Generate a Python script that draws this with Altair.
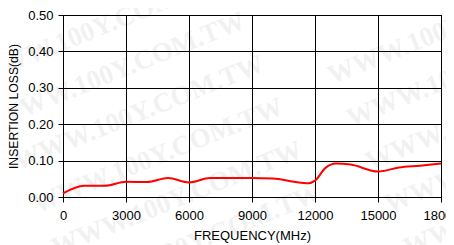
import altair as alt
import pandas as pd

freq = [0, 1000, 2000, 3000, 4000, 5000, 6000, 7000, 8000, 9000, 10000,
        11000, 11700, 12000, 12500, 13000, 13700, 15000, 16000, 17000, 18000]
loss = [0.010, 0.031, 0.031, 0.042, 0.041, 0.052, 0.040, 0.052, 0.052, 0.052, 0.051,
        0.042, 0.038, 0.045, 0.080, 0.092, 0.089, 0.070, 0.081, 0.086, 0.092]

x_ticks = [0, 3000, 6000, 9000, 12000, 15000, 18000]
y_ticks = [0.0, 0.1, 0.2, 0.3, 0.4, 0.5]

wm_text = "WWW.100Y.COM.TW"
wm_rows = [0, 1, 2, 3, 4, 5]

rows = []
for i in wm_rows:
    for base in (38, 390):
        rows.append({"px": base + 19 * i, "py": 12 + 43 * i, "t": wm_text})
wm = pd.DataFrame(rows)
df = pd.DataFrame({"freq": freq, "loss": loss})

W, H = 378, 182

watermark = alt.Chart(wm).mark_text(
    font="Liberation Serif", fontWeight="bold", fontSize=27,
    color="black", opacity=0.05, angle=338, align="center", baseline="middle"
).encode(
    x=alt.X("px:Q", scale=None, axis=None),
    y=alt.Y("py:Q", scale=None, axis=None),
    text="t:N",
)

line = alt.Chart(df).mark_line(
    color="#ff0000", strokeWidth=2, interpolate="monotone"
).encode(
    x=alt.X("freq:Q", title="FREQUENCY(MHz)",
            scale=alt.Scale(domain=[0, 18000], nice=False, zero=False),
            axis=alt.Axis(values=x_ticks, format="d", labelFlush=False,
                          labelOverlap=False, labelPadding=7, titlePadding=7,
                          titleFontSize=13)),
    y=alt.Y("loss:Q", title="INSERTION LOSS(dB)",
            scale=alt.Scale(domain=[0, 0.5], nice=False),
            axis=alt.Axis(values=y_ticks, format=".2f", labelFlush=False,
                          labelPadding=5, titlePadding=7, titleFontSize=12.2)),
)

chart = alt.layer(watermark, line).properties(
    width=W, height=H,
    background="white",
    autosize=alt.AutoSizeParams(type="none"),
    padding={"left": 55, "top": 7, "right": 5, "bottom": 50},
).configure_view(
    stroke="black", strokeWidth=1
).configure_axis(
    gridColor="black", gridOpacity=1, gridWidth=1,
    domainColor="black", domainWidth=1,
    tickColor="black", tickSize=5, tickWidth=1,
    labelFont="Liberation Sans", labelFontSize=13, labelColor="black",
    titleFont="Liberation Sans", titleFontWeight="normal",
    titleColor="black",
)

chart.save("out.html", embed_options={"renderer": "svg", "actions": False})
